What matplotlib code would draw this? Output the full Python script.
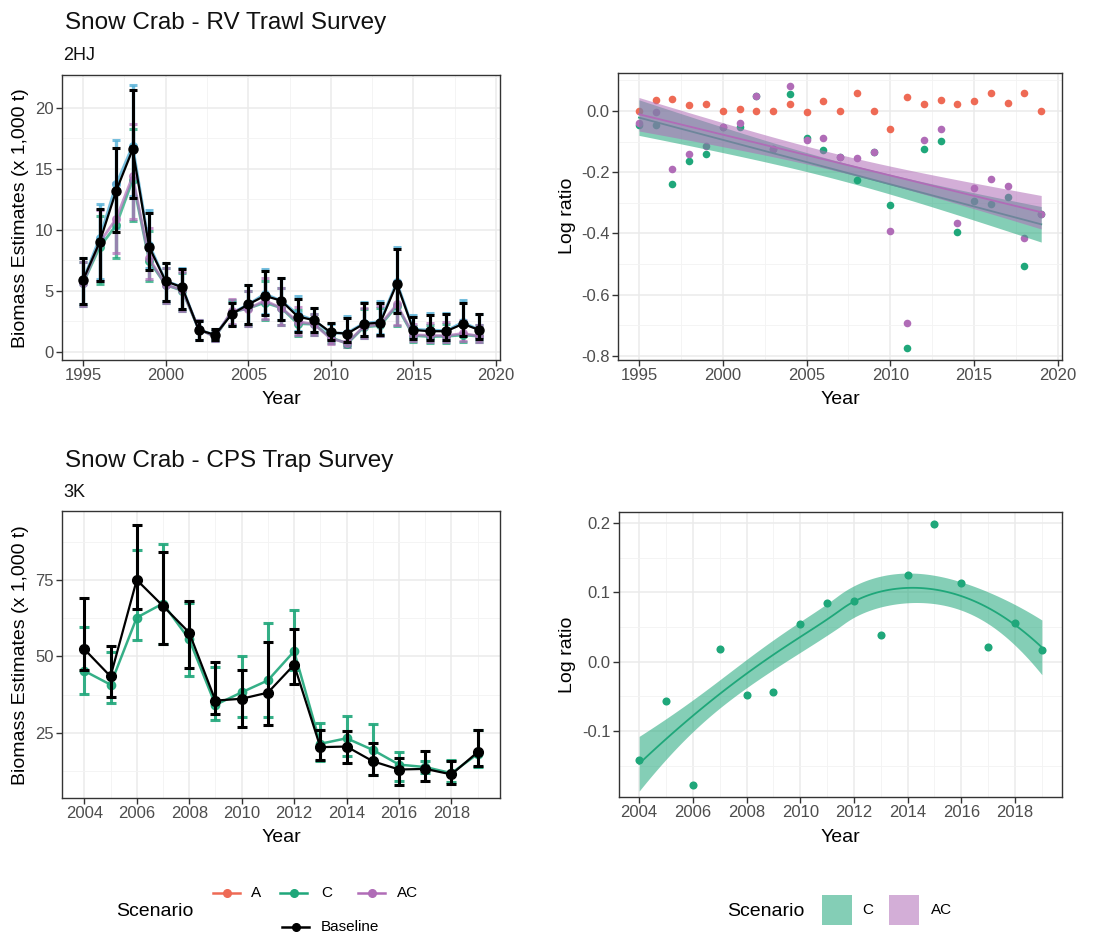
import numpy as np
import matplotlib
matplotlib.use("Agg")
import matplotlib.pyplot as plt
from matplotlib.lines import Line2D
from matplotlib.patches import Rectangle

plt.rcParams['font.family'] = ['Liberation Sans', 'DejaVu Sans']
plt.rcParams['axes.unicode_minus'] = False

# ---------------- data: RV Trawl Survey 2HJ ----------------
years_rv = list(range(1995, 2020))
base_rv = [5.9, 9.0, 13.2, 16.6, 8.6, 5.8, 5.3, 1.8, 1.4, 3.1, 3.9, 4.6, 4.2, 2.9, 2.6,
           1.6, 1.5, 2.3, 2.4, 5.6, 1.8, 1.7, 1.7, 2.3, 1.8]
base_rv_lo = [3.9, 5.8, 9.8, 12.6, 6.7, 4.2, 3.5, 0.95, 1.0, 2.1, 2.3, 3.0, 2.6, 1.6, 1.6,
              1.0, 0.8, 1.3, 1.4, 3.2, 1.1, 1.0, 1.0, 1.3, 1.1]
base_rv_hi = [7.7, 11.7, 16.7, 21.5, 11.4, 7.3, 6.8, 2.5, 1.9, 4.0, 5.5, 6.6, 6.1, 4.3, 3.6,
              2.4, 2.8, 4.0, 4.0, 8.4, 2.9, 3.0, 3.1, 4.0, 3.1]
a_rv = [5.9, 9.32, 13.74, 16.9, 8.79, 5.8, 5.34, 1.8, 1.4, 3.18, 3.89, 4.76, 4.2, 3.08, 2.6,
        1.51, 1.57, 2.35, 2.49, 5.72, 1.86, 1.80, 1.74, 2.44, 1.8]
a_rv_lo = [3.9, 6.0, 10.2, 12.8, 6.85, 4.2, 3.52, 0.95, 1.0, 2.15, 2.3, 3.1, 2.6, 1.7, 1.6,
           0.94, 0.84, 1.33, 1.45, 3.27, 1.14, 1.06, 1.02, 1.38, 1.1]
a_rv_hi = [7.7, 12.1, 17.4, 21.9, 11.66, 7.3, 6.85, 2.5, 1.9, 4.1, 5.48, 6.83, 6.1, 4.57, 3.6,
           2.27, 2.93, 4.09, 4.15, 8.58, 3.0, 3.18, 3.17, 4.24, 3.1]
c_rv = [5.64, 8.6, 10.38, 14.1, 7.48, 5.5, 5.03, 1.89, 1.24, 3.27, 3.57, 4.05, 3.61, 2.32, 2.27,
        1.18, 0.69, 2.03, 2.17, 3.77, 1.34, 1.26, 1.28, 1.39, 1.29]
c_rv_lo = [3.73, 5.54, 7.7, 10.7, 5.83, 3.98, 3.32, 1.0, 0.89, 2.21, 2.11, 2.64, 2.23, 1.28, 1.40,
           0.74, 0.37, 1.15, 1.27, 2.15, 0.82, 0.74, 0.75, 0.79, 0.79]
c_rv_hi = [7.36, 11.18, 13.13, 18.26, 9.92, 6.92, 6.45, 2.63, 1.68, 4.22, 5.03, 5.81, 5.24, 3.44, 3.14,
           1.77, 1.29, 3.53, 3.62, 5.66, 2.16, 2.22, 2.33, 2.42, 2.22]
ac_rv = [5.68, 8.97, 10.92, 14.4, 7.67, 5.5, 5.09, 1.89, 1.24, 3.36, 3.54, 4.21, 3.61, 2.49, 2.27,
         1.08, 0.75, 2.09, 2.26, 3.89, 1.40, 1.36, 1.33, 1.52, 1.29]
ac_rv_lo = [3.75, 5.78, 8.1, 10.93, 5.98, 3.98, 3.36, 1.0, 0.89, 2.27, 2.09, 2.74, 2.23, 1.37, 1.40,
            0.68, 0.40, 1.18, 1.32, 2.22, 0.86, 0.80, 0.78, 0.86, 0.79]
ac_rv_hi = [7.41, 11.66, 13.81, 18.65, 10.17, 6.92, 6.53, 2.63, 1.68, 4.33, 4.99, 6.04, 5.24, 3.69, 3.14,
            1.62, 1.40, 3.63, 3.77, 5.84, 2.26, 2.40, 2.43, 2.64, 2.22]

lr_a_rv = [0.0, 0.035, 0.04, 0.018, 0.022, 0.0, 0.008, 0.0, 0.0, 0.024, -0.003, 0.033, 0.0, 0.06, 0.0,
           -0.058, 0.046, 0.022, 0.037, 0.022, 0.032, 0.059, 0.026, 0.059, 0.0]
lr_c_rv = [-0.045, -0.045, -0.24, -0.163, -0.139, -0.052, -0.052, 0.05, -0.125, 0.054, -0.088, -0.126,
           -0.15, -0.224, -0.135, -0.306, -0.773, -0.123, -0.099, -0.396, -0.293, -0.303, -0.281, -0.506, -0.335]
lr_ac_rv = [-0.038, -0.003, -0.19, -0.141, -0.115, -0.052, -0.04, 0.05, -0.125, 0.082, -0.096, -0.088,
            -0.15, -0.153, -0.135, -0.392, -0.691, -0.096, -0.058, -0.365, -0.251, -0.223, -0.246, -0.414, -0.335]

# ---------------- data: CPS Trap Survey 3K ----------------
years_cps = list(range(2004, 2020))
base_cps = [52.4, 43.5, 75.0, 66.5, 57.8, 35.6, 36.2, 38.2, 47.3, 20.4, 20.6, 15.8, 13.1, 13.3, 11.5, 18.8]
base_cps_lo = [45.5, 36.8, 65.6, 54.2, 46.3, 31.1, 27.0, 27.5, 41.0, 16.2, 15.3, 11.3, 8.2, 9.5, 8.5, 14.4]
base_cps_hi = [69.0, 53.5, 93.0, 84.0, 68.0, 48.2, 45.6, 54.7, 59.0, 26.0, 25.7, 21.6, 16.9, 19.3, 16.0, 25.9]
c_cps = [45.3, 40.8, 62.7, 67.3, 55.6, 34.2, 38.3, 42.2, 51.7, 21.5, 23.3, 19.5, 14.7, 13.9, 11.9, 18.2]
c_cps_lo = [37.7, 34.8, 55.3, 54.0, 43.6, 29.4, 30.4, 30.2, 45.5, 15.9, 17.4, 11.2, 9.3, 12.0, 9.0, 13.9]
c_cps_hi = [59.6, 51.6, 84.7, 86.6, 67.4, 46.6, 50.0, 61.0, 65.2, 28.3, 30.5, 27.8, 18.8, 15.8, 16.3, 25.9]
lr_c_cps = [-0.141, -0.056, -0.178, 0.018, -0.048, -0.043, 0.054, 0.085, 0.088, 0.039, 0.125, 0.199,
            0.114, 0.021, 0.056, 0.017]

scenarios = ['A', 'C', 'AC', 'Baseline']
COL_A = '#EE6A55'
COL_A_TL = '#55AFD6'
COL_C = '#1FA77A'
COL_AC = '#B06CB7'
COL_B = '#000000'

W, H = 1114, 936
fig = plt.figure(figsize=(W / 100, H / 100), dpi=100)


def rect(l, t, r, b):
    return [l / W, 1 - b / H, (r - l) / W, (b - t) / H]


def style(ax, xlim, ylim, xmaj, xmin, ymaj, ymin, ylabs=None):
    ax.set_xlim(*xlim)
    ax.set_ylim(*ylim)
    ax.set_xticks(xmaj)
    ax.set_xticks(xmin, minor=True)
    ax.set_yticks(ymaj)
    ax.set_yticks(ymin, minor=True)
    if ylabs is not None:
        ax.set_yticklabels(ylabs)
    ax.set_axisbelow(True)
    ax.grid(which='major', color='#EBEBEB', lw=1.1)
    ax.grid(which='minor', color='#F3F3F3', lw=0.6)
    ax.tick_params(which='minor', length=0)
    ax.tick_params(which='major', length=4, width=1, color='#333333',
                   labelsize=12, labelcolor='#4D4D4D', pad=2)
    for s in ax.spines.values():
        s.set_color('#333333')
        s.set_linewidth(1.0)


def ftext(x, y, s, **kw):
    fig.text(x / W, 1 - y / H, s, **kw)


# ---------------- top-left ----------------
ax1 = fig.add_axes(rect(62, 75, 500, 360))
style(ax1, (1993.72, 2020.25), (-0.66, 22.7), [1995, 2000, 2005, 2010, 2015, 2020],
      np.arange(1997.5, 2020, 5), [0, 5, 10, 15, 20], np.arange(2.5, 22.6, 5))
yr = np.array(years_rv)
for vals, lo, hi, col, al in [(a_rv, a_rv_lo, a_rv_hi, COL_A_TL, 0.8),
                              (c_rv, c_rv_lo, c_rv_hi, COL_C, 0.75),
                              (ac_rv, ac_rv_lo, ac_rv_hi, COL_AC, 0.7)]:
    v = np.array(vals)
    ax1.errorbar(yr, v, yerr=[v - np.array(lo), np.array(hi) - v], fmt='-o', color=col,
                 ms=5.5, lw=2.0, elinewidth=2.4, capsize=3, capthick=2.2, alpha=al, zorder=3)
v = np.array(base_rv)
ax1.errorbar(yr, v, yerr=[v - np.array(base_rv_lo), np.array(base_rv_hi) - v], fmt='-o',
             color=COL_B, ms=6.5, lw=1.6, elinewidth=2.2, capsize=3, capthick=2.2, zorder=5)

# ---------------- top-right ----------------
ax2 = fig.add_axes(rect(618, 73, 1062, 360))
style(ax2, (1993.75, 2020.24), (-0.813, 0.124), [1995, 2000, 2005, 2010, 2015, 2020],
      np.arange(1997.5, 2020, 5), [-0.8, -0.6, -0.4, -0.2, 0.0], np.arange(-0.7, 0.11, 0.2),
      ['-0.8', '-0.6', '-0.4', '-0.2', '0.0'])
ax2.scatter(yr, lr_a_rv, s=30, color=COL_A, lw=0, zorder=3)
ax2.scatter(yr, lr_c_rv, s=30, color=COL_C, lw=0, zorder=3)
ax2.scatter(yr, lr_ac_rv, s=30, color=COL_AC, lw=0, zorder=3)
xs = np.linspace(1995, 2019, 100)
for lr, col in [(lr_c_rv, COL_C), (lr_ac_rv, COL_AC)]:
    lr = np.array(lr)
    n = len(yr)
    coef = np.polyfit(yr, lr, 1)
    fit = np.polyval(coef, xs)
    res = lr - np.polyval(coef, yr)
    s = np.sqrt((res ** 2).sum() / (n - 2))
    sxx = ((yr - yr.mean()) ** 2).sum()
    se = s * np.sqrt(1 / n + (xs - yr.mean()) ** 2 / sxx)
    ax2.fill_between(xs, fit - se, fit + se, color=col, alpha=0.55, lw=0, zorder=4)
    ax2.plot(xs, fit, color=col, lw=1.3, zorder=4)

# ---------------- bottom-left ----------------
ax3 = fig.add_axes(rect(62, 511, 500, 798))
style(ax3, (2003.15, 2019.85), (3.8, 97.5), list(range(2004, 2019, 2)), list(range(2005, 2020, 2)),
      [25, 50, 75], [12.5, 37.5, 62.5, 87.5])
yc = np.array(years_cps)
v = np.array(c_cps)
ax3.errorbar(yc, v, yerr=[v - np.array(c_cps_lo), np.array(c_cps_hi) - v], fmt='-o', color=COL_C,
             ms=6, lw=1.8, elinewidth=2.2, capsize=3.5, capthick=2.2, alpha=0.9, zorder=3)
v = np.array(base_cps)
ax3.errorbar(yc, v, yerr=[v - np.array(base_cps_lo), np.array(base_cps_hi) - v], fmt='-o',
             color=COL_B, ms=7, lw=1.6, elinewidth=2.2, capsize=3.5, capthick=2.2, zorder=5)

# ---------------- bottom-right ----------------
ax4 = fig.add_axes(rect(619, 512, 1062, 797))
style(ax4, (2003.25, 2019.75), (-0.195, 0.216), list(range(2004, 2019, 2)), list(range(2005, 2020, 2)),
      [-0.1, 0.0, 0.1, 0.2], [-0.15, -0.05, 0.05, 0.15], ['-0.1', '0.0', '0.1', '0.2'])
ax4.scatter(yc, lr_c_cps, s=34, color=COL_C, lw=0, zorder=3)


def loess(x, y, xg, span=1.1):
    """Local quadratic regression with tricube weights, plus +/- 1 s.e. band."""
    x = np.asarray(x, float)
    y = np.asarray(y, float)
    n = len(x)

    def row(x0):
        d = np.abs(x - x0)
        h = d.max() * span
        w = np.clip(1 - (d / h) ** 3, 0, None) ** 3
        X = np.vstack([np.ones(n), x - x0, (x - x0) ** 2]).T
        XtW = X.T * w
        return np.linalg.solve(XtW @ X, XtW)[0]

    L = np.array([row(xx) for xx in x])
    Lg = np.array([row(xx) for xx in xg])
    fit = Lg @ y
    M = (np.eye(n) - L).T @ (np.eye(n) - L)
    sigma = np.sqrt(((y - L @ y) ** 2).sum() / np.trace(M))
    se = sigma * np.sqrt((Lg ** 2).sum(1))
    return fit, fit - se, fit + se


xg = np.linspace(2004, 2019, 120)
fit, lo, hi = loess(yc, lr_c_cps, xg)
ax4.fill_between(xg, lo, hi, color=COL_C, alpha=0.55, lw=0, zorder=4)
ax4.plot(xg, fit, color=COL_C, lw=1.3, zorder=4)

# ---------------- texts ----------------
ftext(65, 29, 'Snow Crab - RV Trawl Survey', fontsize=17.5, va='baseline', color='#111111')
ftext(63, 60, '2HJ', fontsize=13, va='baseline', color='#111111')
ftext(65, 467, 'Snow Crab - CPS Trap Survey', fontsize=17.5, va='baseline', color='#111111')
ftext(63, 497, '3K', fontsize=13, va='baseline', color='#111111')
ylab = 'Biomass Estimates (x 1,000 t)'
ftext(21, 218, ylab, fontsize=14, rotation=90, ha='center', va='center')
ftext(21, 655, ylab, fontsize=14, rotation=90, ha='center', va='center')
ftext(568, 216, 'Log ratio', fontsize=14, rotation=90, ha='center', va='center')
ftext(568, 655, 'Log ratio', fontsize=14, rotation=90, ha='center', va='center')
ftext(281, 399, 'Year', fontsize=14, ha='center', va='center')
ftext(840, 399, 'Year', fontsize=14, ha='center', va='center')
ftext(281, 838, 'Year', fontsize=14, ha='center', va='center')
ftext(840, 838, 'Year', fontsize=14, ha='center', va='center')

# ---------------- legends ----------------
ftext(155, 912, 'Scenario', fontsize=14, ha='center', va='center')
leg_items = [('A', COL_A, 213, 893, 251), ('C', COL_C, 280, 893, 321),
             ('AC', COL_AC, 358, 893, 397), ('Baseline', COL_B, 282, 927, 321)]
for lab, col, x0, y0, xt in leg_items:
    fig.add_artist(Line2D([x0 / W, (x0 + 27) / W], [1 - y0 / H, 1 - y0 / H], color=col, lw=1.8,
                          transform=fig.transFigure))
    fig.add_artist(Line2D([(x0 + 13.5) / W], [1 - y0 / H], color=col, marker='o', ms=5.5,
                          transform=fig.transFigure))
    ftext(xt, y0, lab, fontsize=11, ha='left', va='center')

ftext(766, 912, 'Scenario', fontsize=14, ha='center', va='center')
for lab, col, x0, xt in [('C', COL_C, 822, 862), ('AC', COL_AC, 889, 931)]:
    fig.add_artist(Rectangle((x0 / W, 1 - 925 / H), 30 / W, 30 / H, facecolor=col, alpha=0.55,
                             lw=0, transform=fig.transFigure))
    ftext(xt, 910, lab, fontsize=11, ha='left', va='center')

fig.savefig('out.png', dpi=100)
